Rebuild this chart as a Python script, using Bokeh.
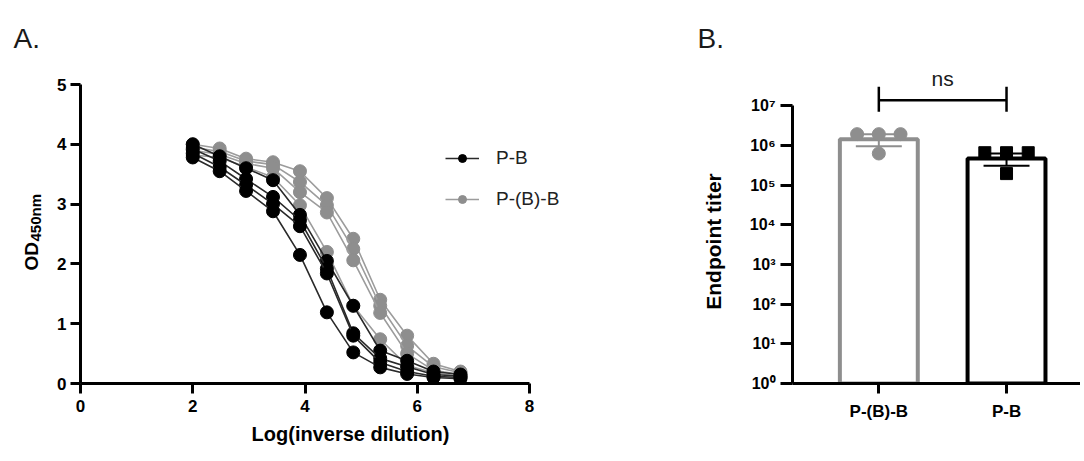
import math
from bokeh.plotting import figure
from bokeh.models import Range1d, FixedTicker, Legend, LegendItem
from bokeh.layouts import row
from bokeh.embed import file_html
from bokeh.resources import INLINE
from bokeh.core.properties import value

# ---------------- data ----------------
log_dilution = [2.00, 2.48, 2.95, 3.43, 3.91, 4.39, 4.86, 5.34, 5.82, 6.29, 6.77]

pb_od = [
    [4.00, 3.80, 3.60, 3.40, 2.82, 2.05, 1.30, 0.55, 0.38, 0.20, 0.15],
    [3.92, 3.72, 3.42, 3.12, 2.73, 1.92, 0.84, 0.42, 0.28, 0.15, 0.12],
    [3.85, 3.62, 3.32, 3.00, 2.63, 1.84, 0.80, 0.35, 0.20, 0.12, 0.10],
    [3.78, 3.55, 3.22, 2.88, 2.15, 1.19, 0.52, 0.27, 0.16, 0.10, 0.08],
]
pbb_od = [
    [4.00, 3.93, 3.76, 3.70, 3.55, 3.10, 2.42, 1.40, 0.80, 0.33, 0.20],
    [3.95, 3.88, 3.72, 3.66, 3.37, 2.98, 2.25, 1.30, 0.63, 0.28, 0.18],
    [3.90, 3.83, 3.68, 3.60, 3.20, 2.86, 2.06, 1.18, 0.50, 0.22, 0.15],
    [3.82, 3.78, 3.62, 3.45, 2.98, 2.20, 1.30, 0.74, 0.30, 0.18, 0.12],
]
x_ticks = [0, 2, 4, 6, 8]
y_ticks = [0, 1, 2, 3, 4, 5]

groups = ["P-(B)-B", "P-B"]
titer_pbb = [1.94e6, 1.94e6, 1.94e6, 6.3e5]
titer_pb = [6.6e5, 6.6e5, 6.6e5, 1.96e5]
titer_bar = [1.45e6, 4.7e5]
titer_err_low = [9.6e5, 3.1e5]
titer_err_high = [1.94e6, 6.3e5]
p_label = "ns"

# ---------------- style ----------------
FONT = "Liberation Sans"
GRAY = "#8e8e8e"
GRAY_LINE = "#9c9c9c"
BLACK = "#000000"
TXT = "#1a1a1a"
H = 453
TOP = 10          # frame top (page px), shared by all figures in the row
BOTTOM = 383      # frame bottom (page px)
FRAME_H = BOTTOM - TOP
jitter = [-0.17, 0.0, 0.17, 0.0]


def style_axis(ax, size="17px"):
    ax.axis_line_width = 3
    ax.axis_line_color = BLACK
    ax.major_tick_line_width = 3
    ax.major_tick_line_color = BLACK
    ax.major_tick_out = 10
    ax.major_tick_in = 0
    ax.minor_tick_out = 0
    ax.minor_tick_in = 0
    ax.major_label_text_font = FONT
    ax.major_label_text_font_style = "bold"
    ax.major_label_text_font_size = size
    ax.major_label_text_color = BLACK
    ax.axis_label_text_font = FONT
    ax.axis_label_text_font_style = "bold"
    ax.axis_label_text_font_size = "20px"
    ax.axis_label_text_color = BLACK


def label_fig(w):
    f = figure(width=w, height=H, x_range=Range1d(0, w), y_range=Range1d(0, FRAME_H),
               output_backend="svg", toolbar_location=None,
               x_axis_location=None, y_axis_location=None,
               min_border_left=0, min_border_right=0, min_border_top=TOP,
               min_border_bottom=H - BOTTOM)
    f.outline_line_color = None
    f.grid.visible = False
    return f


# ---------------- label strip for A ----------------
labA = label_fig(45)
labA.text(x=[13], y=[BOTTOM - 38], text=["A."], text_font=value(FONT), text_font_size="28px",
          text_color=TXT, text_align="left", text_baseline="alphabetic")
labA.text(x=[31], y=[BOTTOM - 270], text=["OD"], angle=math.pi / 2, text_font=value(FONT),
          text_font_style="bold", text_font_size="19px", text_color=BLACK,
          text_align="left", text_baseline="alphabetic")
labA.text(x=[35], y=[BOTTOM - 241], text=["450nm"], angle=math.pi / 2, text_font=value(FONT),
          text_font_style="bold", text_font_size="15px", text_color=BLACK,
          text_align="left", text_baseline="alphabetic")

# ---------------- panel A ----------------
px_per_unit_x = 449 / 8
px_per_unit_y = 299 / 5
pA = figure(width=575, height=H, x_range=Range1d(0, 540 / px_per_unit_x),
            y_range=Range1d(0, FRAME_H / px_per_unit_y),
            output_backend="svg", toolbar_location=None,
            min_border_left=35, min_border_right=0, min_border_top=TOP,
            min_border_bottom=H - BOTTOM)
pA.outline_line_color = None
pA.grid.visible = False
style_axis(pA.xaxis[0])
style_axis(pA.yaxis[0])
pA.xaxis.ticker = FixedTicker(ticks=x_ticks)
pA.yaxis.ticker = FixedTicker(ticks=y_ticks)
pA.xaxis.bounds = (x_ticks[0], x_ticks[-1])
pA.yaxis.bounds = (y_ticks[0], y_ticks[-1])
pA.xaxis.major_label_standoff = 6
pA.yaxis.major_label_standoff = 4
pA.xaxis.axis_label = "Log(inverse dilution)"
pA.xaxis.axis_label_standoff = 8

gray_r = []
for s in pbb_od:
    l = pA.line(log_dilution, s, line_color=GRAY_LINE, line_width=1.6)
    c = pA.scatter(log_dilution, s, size=13, fill_color=GRAY, line_color=GRAY)
    gray_r.append((l, c))
black_r = []
for s in pb_od:
    l = pA.line(log_dilution, s, line_color="#2a2a2a", line_width=1.6)
    c = pA.scatter(log_dilution, s, size=13, fill_color=BLACK, line_color=BLACK)
    black_r.append((l, c))

legend = Legend(items=[LegendItem(label="P-B", renderers=list(black_r[0])),
                       LegendItem(label="P-(B)-B", renderers=list(gray_r[0]))],
                location=(365, 173), glyph_width=34, glyph_height=20, label_height=20,
                label_standoff=17, spacing=19, padding=0, margin=0,
                border_line_color=None, background_fill_alpha=0,
                label_text_font=FONT, label_text_font_size="19px", label_text_color="#222222")
pA.add_layout(legend)

# ---------------- label strip for B ----------------
labB = label_fig(115)
labB.text(x=[77], y=[BOTTOM - 38], text=["B."], text_font=value(FONT), text_font_size="28px",
          text_color=TXT, text_align="left", text_baseline="alphabetic")
labB.text(x=[93], y=[BOTTOM - 241], text=["Endpoint titer"], angle=math.pi / 2,
          text_font=value(FONT), text_font_style="bold", text_font_size="21px",
          text_color=BLACK, text_align="center", text_baseline="middle")

# ---------------- panel B ----------------
cat_px = 127.7
decade_px = 39.66
pB = figure(width=345, height=H, x_range=Range1d(-0.676, -0.676 + 288 / cat_px),
            y_range=Range1d(1, 10 ** (FRAME_H / decade_px)), y_axis_type="log",
            output_backend="svg", toolbar_location=None,
            min_border_left=57, min_border_right=0, min_border_top=TOP,
            min_border_bottom=H - BOTTOM)
pB.outline_line_color = None
pB.grid.visible = False
style_axis(pB.xaxis[0])
style_axis(pB.yaxis[0], size="16px")
sup = "⁰¹²³⁴⁵⁶⁷"
pB.yaxis.ticker = FixedTicker(ticks=[10 ** k for k in range(8)])
pB.yaxis.major_label_overrides = {10 ** k: "10" + sup[k] for k in range(8)}
pB.yaxis.bounds = (1, 10 ** 7)
pB.yaxis.major_tick_out = 12
pB.yaxis.major_label_standoff = 5
pB.xaxis.ticker = FixedTicker(ticks=list(range(len(groups))))
pB.xaxis.major_label_overrides = {i: g for i, g in enumerate(groups)}
pB.xaxis.major_label_standoff = 8

xs = list(range(len(groups)))
colors = [GRAY, BLACK]
pB.vbar(x=xs, top=titer_bar, bottom=1, width=0.61, fill_color="white",
        line_color=colors, line_width=4)

cap = 0.18
pB.segment(x0=xs, y0=titer_err_low, x1=xs, y1=titer_err_high, line_color=colors, line_width=2)
pB.segment(x0=[x - cap for x in xs], y0=titer_err_low, x1=[x + cap for x in xs], y1=titer_err_low,
           line_color=colors, line_width=2)
pB.segment(x0=[x - cap for x in xs], y0=titer_err_high, x1=[x + cap for x in xs], y1=titer_err_high,
           line_color=colors, line_width=2)

pB.scatter(x=[xs[0] + j for j in jitter], y=titer_pbb, marker="circle", size=13,
           fill_color=GRAY, line_color=GRAY)
pB.scatter(x=[xs[1] + j for j in jitter], y=titer_pb, marker="square", size=12,
           fill_color=BLACK, line_color=BLACK)

# significance bracket
br_y, br_lo, br_hi, txt_y = 10 ** 7.14, 10 ** 6.85, 10 ** 7.48, 10 ** 7.70
pB.segment(x0=[xs[0], xs[0], xs[1]], y0=[br_y, br_lo, br_lo],
           x1=[xs[1], xs[0], xs[1]], y1=[br_y, br_hi, br_hi],
           line_color=BLACK, line_width=2.5)
pB.text(x=[(xs[0] + xs[1]) / 2], y=[txt_y], text=[p_label], text_align="center",
        text_baseline="middle", text_font=value(FONT), text_font_size="21px", text_color=TXT)

layout = row(labA, pA, labB, pB)
open("out.html", "w").write(file_html(layout, INLINE))
